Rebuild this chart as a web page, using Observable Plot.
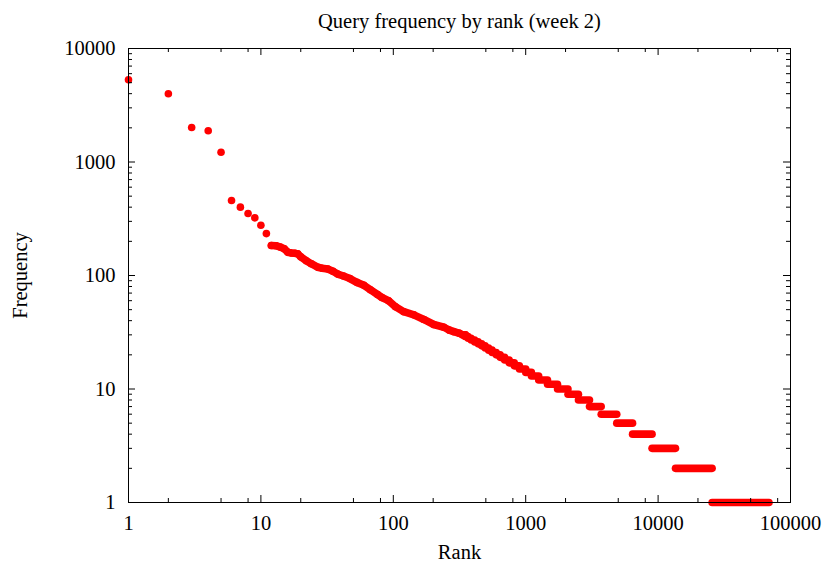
<!DOCTYPE html>
<html><head><meta charset="utf-8">
<script src="https://cdn.jsdelivr.net/npm/d3@7"></script>
<script src="https://cdn.jsdelivr.net/npm/@observablehq/plot@0.6"></script>
<style>body{margin:0;background:#fff} #chart svg{display:block}</style>
</head><body><div id="chart"></div>
<script>
// ---- data ----
const chartTitle = "Query frequency by rank (week 2)";
const xTitle = "Rank";
const yTitle = "Frequency";

// top-ranked queries read individually
const headRank = [1,2,3,4,5,6,7,8,9,10,11,12,13,14,15,16,17,18,19,20,22,24,27,29,32,35,38,42,47,53,60,67,76,82,92,104,120,143,170,202,241,265,286,315,333,350];
const headFreq = [5300,3990,2014,1883,1220,458,400,352,322,277,234,184,183,178,172,160,158,157,155,146,135,127,118,116,114,109,103,99,94,87,82,75,68,64,60,53,48,45,41,37,35,33,32,31,30,30];

// tail: rank range sharing each integer frequency
const levelFreq      = [1,2,3,4,5,6,7,8,9,10,11,12,13,14,15,16,17,18,19,20,21,22,23,24,25,26,27,28,29];
const levelFirstRank = [25800,13650,9080,6470,4915,3750,3060,2525,2105,1755,1475,1265,1115,1010,905,828,758,700,648,605,563,530,499,470,442,416,391,371,352];
const levelLastRank  = [69400,25799,13649,9079,6469,4914,3749,3059,2524,2104,1754,1474,1264,1114,1009,904,827,757,699,647,604,562,529,498,469,441,415,390,370];

// axis ticks
const xMajor = [1,10,100,1000,10000,100000];
const xMinor = [2,5,8,20,50,80,200,500,800,2000,5000,8000,20000,50000,80000];
const yMajor = [1,10,100,1000,10000];
const yMinor = [2,3,4,5,6,7,8,9,20,30,40,50,60,70,80,90,200,300,400,500,600,700,800,900,2000,3000,4000,5000,6000,7000,8000,9000];

// ---- chart ----
const W = 826, H = 569, mL = 128, mR = 36, mT = 48, mB = 67;
const plotW = W - mL - mR, plotH = H - mT - mB;
const majorLen = 7, minorLen = 4;
const fs = 20.5;
const font = "'Liberation Serif', 'Times New Roman', serif";

const head = headRank.map((r, i) => ({rank: r, freq: headFreq[i]}));
const levels = levelFreq.map((f, i) => ({freq: f, first: levelFirstRank[i], last: levelLastRank[i]}));

const tickStyle = {stroke: "black", strokeWidth: 1};
const dotR = 3.8;

const chart = Plot.plot({
  width: W, height: H,
  marginLeft: mL, marginRight: mR, marginTop: mT, marginBottom: mB,
  style: {fontFamily: font, fontSize: fs + "px", background: "white", color: "black"},
  x: {type: "log", domain: [1, 100000]},
  y: {type: "log", domain: [1, 10000]},
  marks: [
    Plot.line(head.filter(d => d.rank >= 12), {x: "rank", y: "freq", stroke: "red", strokeWidth: dotR * 2, strokeLinecap: "round", strokeLinejoin: "round"}),
    Plot.dot(head, {x: "rank", y: "freq", r: dotR, fill: "red"}),
    Plot.ruleY(levels, {y: "freq", x1: "first", x2: "last", stroke: "red", strokeWidth: dotR * 2, strokeLinecap: "round"}),
    Plot.frame({stroke: "black"}),
    Plot.tickX(xMajor, {x: d => d, insetTop: plotH - majorLen, ...tickStyle}),
    Plot.tickX(xMajor, {x: d => d, insetBottom: plotH - majorLen, ...tickStyle}),
    Plot.tickX(xMinor, {x: d => d, insetTop: plotH - minorLen, ...tickStyle}),
    Plot.tickX(xMinor, {x: d => d, insetBottom: plotH - minorLen, ...tickStyle}),
    Plot.tickY(yMajor, {y: d => d, insetRight: plotW - majorLen, ...tickStyle}),
    Plot.tickY(yMajor, {y: d => d, insetLeft: plotW - majorLen, ...tickStyle}),
    Plot.tickY(yMinor, {y: d => d, insetRight: plotW - minorLen, ...tickStyle}),
    Plot.tickY(yMinor, {y: d => d, insetLeft: plotW - minorLen, ...tickStyle}),
    Plot.axisX(xMajor, {tickSize: 0, tickPadding: 13, tickFormat: d => String(d), label: null, fontSize: fs}),
    Plot.axisY(yMajor, {tickSize: 0, tickPadding: 13, tickFormat: d => String(d), label: null, fontSize: fs}),
    Plot.text([chartTitle], {frameAnchor: "top", dy: -21, lineAnchor: "bottom", fontSize: fs}),
    Plot.text([xTitle], {frameAnchor: "bottom", dy: 56, lineAnchor: "bottom", fontSize: fs}),
    Plot.text([yTitle], {frameAnchor: "left", dx: -108, rotate: -90, textAnchor: "middle", fontSize: fs})
  ]
});
document.getElementById("chart").appendChild(chart);
</script>
</body></html>
